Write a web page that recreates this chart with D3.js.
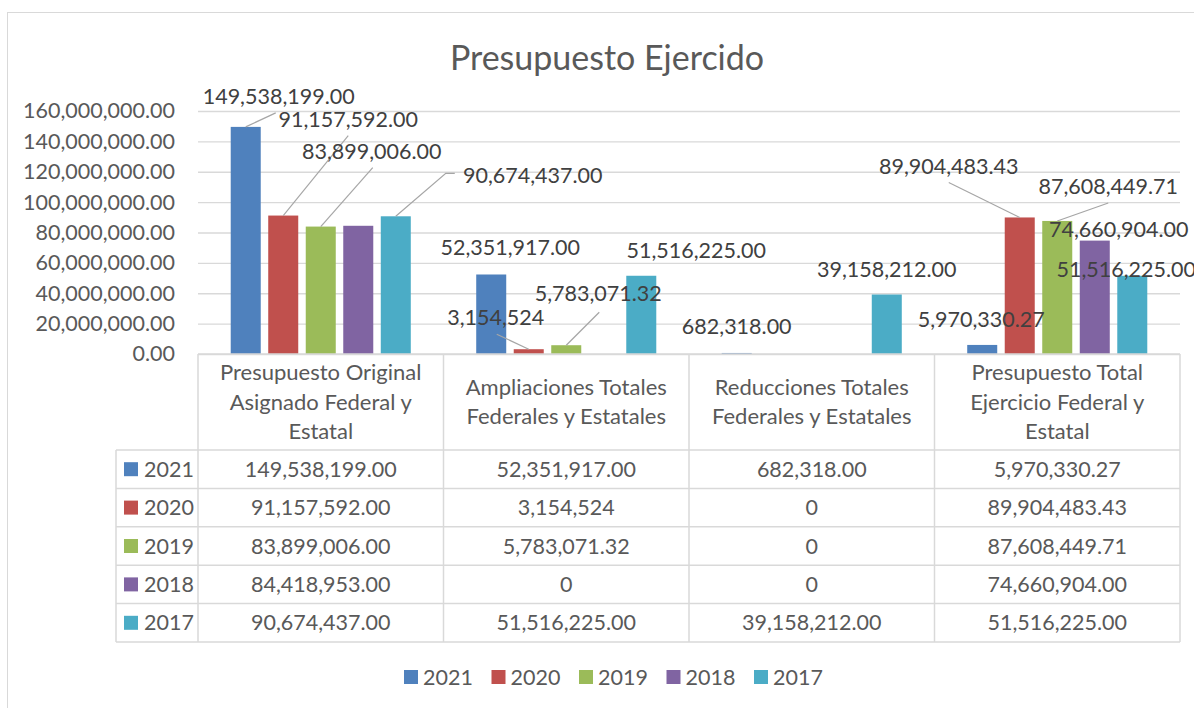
<!DOCTYPE html>
<html>
<head>
<meta charset="utf-8">
<script src="https://cdn.jsdelivr.net/npm/d3@7"></script>
<style>
  body { margin: 0; background: #fff; }
  svg { display: block; }
  text { font-family: Lato, "Open Sans", sans-serif; }
</style>
</head>
<body>
<svg id="chart" width="1194" height="708"></svg>
<script>
// categories (x axis) and their wrapped names in the data table
var categories = ["Original", "Ampliaciones", "Reducciones", "Total"];
var headerLines = [
    ["Presupuesto Original", "Asignado Federal y", "Estatal"],
    ["Ampliaciones Totales", "Federales y Estatales"],
    ["Reducciones Totales", "Federales y Estatales"],
    ["Presupuesto Total", "Ejercicio Federal y", "Estatal"]
];

// series
var years = ["2021", "2020", "2019", "2018", "2017"];
var v2021 = [149538199.00, 52351917.00, 682318.00, 5970330.27];
var v2020 = [91157592.00, 3154524, 0, 89904483.43];
var v2019 = [83899006.00, 5783071.32, 0, 87608449.71];
var v2018 = [84418953.00, 0, 0, 74660904.00];
var v2017 = [90674437.00, 51516225.00, 39158212.00, 51516225.00];
var seriesValues = [v2021, v2020, v2019, v2018, v2017];

// cells that excel shows in "general" format (no decimals)
var generalCells = [[1, 1]];

var yTicks = [0, 20000000, 40000000, 60000000, 80000000, 100000000, 120000000, 140000000, 160000000];

var colors = ["#4F81BD", "#C0504D", "#9BBB59", "#8064A2", "#4BACC6"];

// data label placement (offset from the bar top) and leader lines, null = no label
var labelLayout = [
    [{ dx: 33, dy: -30, lead: [[30, -14]] }, { dx: 19, dy: -27 }, { dx: 0, dy: -26 }, { dx: -1, dy: -25 }],
    [{ dx: 65, dy: -96, lead: [[65, -80]] }, { dx: -33, dy: -32, lead: [[-32, -15]] }, null, { dx: -71, dy: -51, lead: [[-71, -35]] }],
    [{ dx: 51, dy: -75, lead: [[52, -59]] }, { dx: 32, dy: -52, lead: [[33, -33]] }, null, { dx: 51, dy: -34, lead: [[51, -18]] }],
    [null, null, null, { dx: 24, dy: -11 }],
    [{ dx: 137, dy: -41, lead: [[50, -43], [59, -43]] }, { dx: 55, dy: -25 }, { dx: 0, dy: -25 }, { dx: -6, dy: -6 }]
];

var fmt2 = d3.format(",.2f");
var fmtInt = d3.format(",");

function cellText(s, c) {
    var v = seriesValues[s][c];
    if (v === 0) return "0";
    for (let k = 0; k < generalCells.length; k++) {
        if (generalCells[k][0] == s && generalCells[k][1] == c) return fmtInt(v);
    }
    return fmt2(v);
}

var svg = d3.select("#chart");

var plotLeft = 198, plotRight = 1180, plotTop = 111, plotBase = 354;
var headerBottom = 450, tableBottom = 642, tableLeft = 116;
var numSize = 21.5, headSize = 22;

// chart frame (runs off the right/bottom edge like the screenshot)
svg.append("rect")
    .attr("x", 7.5).attr("y", 12.5)
    .attr("width", 1220).attr("height", 720)
    .attr("fill", "none")
    .attr("stroke", "#d9d9d9");

svg.append("text")
    .attr("x", 607).attr("y", 70)
    .attr("text-anchor", "middle")
    .attr("font-size", 34)
    .attr("fill", "#595959")
    .text("Presupuesto Ejercido");

var x0 = d3.scaleBand().domain(categories).range([plotLeft, plotRight]).paddingInner(0.236).paddingOuter(0.118);
var x1 = d3.scaleBand().domain(years).range([0, x0.bandwidth()]).paddingInner(0.2).paddingOuter(0.1);
var y = d3.scaleLinear().domain([0, 160000000]).range([plotBase, plotTop]);

// gridlines
var grid = svg.append("g")
    .attr("transform", "translate(" + plotLeft + ",0)")
    .call(d3.axisLeft(y).tickValues(yTicks).tickSize(-(plotRight - plotLeft)).tickFormat(""));
grid.select(".domain").remove();
grid.selectAll("line").attr("stroke", "#d9d9d9").attr("stroke-width", 1.3);

// y axis labels
var yAxis = svg.append("g")
    .attr("transform", "translate(" + plotLeft + ",0)")
    .call(d3.axisLeft(y).tickValues(yTicks).tickSize(0).tickPadding(23).tickFormat(fmt2));
yAxis.select(".domain").remove();
yAxis.selectAll("text")
    .attr("font-size", numSize)
    .attr("fill", "#595959")
    .style("font-family", "Lato, 'Open Sans', sans-serif");

// bars
var barData = [];
seriesValues.forEach(function (vals, s) {
    vals.forEach(function (v, c) {
        barData.push({ s: s, c: c, v: v });
    });
});

svg.append("g")
    .selectAll("rect")
    .data(barData)
    .enter()
    .append("rect")
    .attr("x", function (d) { return x0(categories[d.c]) + x1(years[d.s]); })
    .attr("y", function (d) { return y(d.v); })
    .attr("width", x1.bandwidth())
    .attr("height", function (d) { return plotBase - y(d.v); })
    .attr("fill", function (d) { return colors[d.s]; });

// data labels + leader lines
var labels = svg.append("g");
barData.forEach(function (d) {
    var lay = labelLayout[d.s][d.c];
    if (!lay) return;
    var bx = x0(categories[d.c]) + x1(years[d.s]) + x1.bandwidth() / 2;
    var by = y(d.v);
    if (lay.lead) {
        var pts = [[bx, by]].concat(lay.lead.map(function (p) { return [bx + p[0], by + p[1]]; }));
        labels.append("path")
            .attr("d", d3.line()(pts))
            .attr("fill", "none")
            .attr("stroke", "#a6a6a6")
            .attr("stroke-width", 1.2);
    }
    labels.append("text")
        .attr("x", bx + lay.dx)
        .attr("y", by + lay.dy)
        .attr("dy", "0.35em")
        .attr("text-anchor", "middle")
        .attr("font-size", numSize)
        .attr("fill", "#404040")
        .text(cellText(d.s, d.c));
});

// data table
var rows = d3.scaleBand().domain(years).range([headerBottom, tableBottom]);
var step = x0.step();
var colEdges = categories.map(function (c) { return x0(c) - x0.paddingOuter() * step; });
colEdges.push(plotRight);

var table = svg.append("g").attr("stroke", "#d9d9d9").attr("stroke-width", 1.5);
colEdges.forEach(function (xe) {
    table.append("line").attr("x1", xe).attr("x2", xe).attr("y1", plotBase).attr("y2", tableBottom);
});
table.append("line").attr("x1", tableLeft).attr("x2", tableLeft).attr("y1", headerBottom).attr("y2", tableBottom);
table.append("line").attr("x1", plotLeft).attr("x2", plotRight).attr("y1", plotBase).attr("y2", plotBase);
years.forEach(function (yr) {
    table.append("line").attr("x1", tableLeft).attr("x2", plotRight).attr("y1", rows(yr)).attr("y2", rows(yr));
});
table.append("line").attr("x1", tableLeft).attr("x2", plotRight).attr("y1", tableBottom).attr("y2", tableBottom);

// header cells
categories.forEach(function (c, i) {
    var lines = headerLines[i];
    var cx = x0(c) + x0.bandwidth() / 2;
    var mid = (plotBase + headerBottom) / 2;
    var lh = 29.5;
    lines.forEach(function (ln, k) {
        svg.append("text")
            .attr("x", cx)
            .attr("y", mid + (k - (lines.length - 1) / 2) * lh)
            .attr("dy", "0.35em")
            .attr("text-anchor", "middle")
            .attr("font-size", headSize)
            .attr("fill", "#595959")
            .text(ln);
    });
});

// row labels + values
years.forEach(function (yr, s) {
    var cy = rows(yr) + rows.bandwidth() / 2;
    svg.append("rect")
        .attr("x", 124).attr("y", cy - 7)
        .attr("width", 14).attr("height", 14)
        .attr("fill", colors[s]);
    svg.append("text")
        .attr("x", 144).attr("y", cy)
        .attr("dy", "0.35em")
        .attr("font-size", numSize)
        .attr("fill", "#595959")
        .text(yr);
    categories.forEach(function (c, ci) {
        svg.append("text")
            .attr("x", x0(c) + x0.bandwidth() / 2)
            .attr("y", cy)
            .attr("dy", "0.35em")
            .attr("text-anchor", "middle")
            .attr("font-size", numSize)
            .attr("fill", "#595959")
            .text(cellText(s, ci));
    });
});

// legend
var legend = svg.append("g");
years.forEach(function (yr, i) {
    var lx = 404 + i * 87.5;
    legend.append("rect")
        .attr("x", lx).attr("y", 670)
        .attr("width", 14).attr("height", 14)
        .attr("fill", colors[i]);
    legend.append("text")
        .attr("x", lx + 19).attr("y", 677)
        .attr("dy", "0.35em")
        .attr("font-size", numSize)
        .attr("fill", "#595959")
        .text(yr);
});
</script>
</body>
</html>
